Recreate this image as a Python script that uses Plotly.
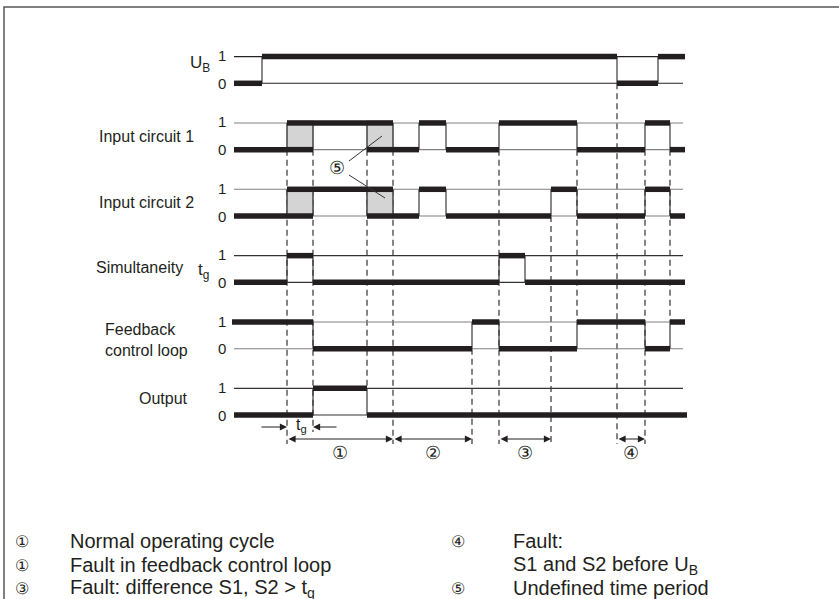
import plotly.graph_objects as go

# ---------------- data ----------------
# times in arbitrary time units (t = 0 at the start of the diagram)
row_labels = ["U<sub>B</sub>", "Input circuit 1", "Input circuit 2",
              "Simultaneity", "Feedback<br>control loop", "Output"]

ub_times = [0, 28, 383, 424, 451]
ub_states = [0, 1, 0, 1]

ic1_times = [0, 53, 79, 133, 159, 185, 212, 265, 343, 411, 436, 451]
ic1_states = [0, "X", 1, "X", 0, 1, 0, 1, 0, 1, 0]

ic2_times = [0, 53, 79, 133, 159, 185, 212, 317, 343, 411, 436, 451]
ic2_states = [0, "X", 1, "X", 0, 1, 0, 1, 0, 1, 0]

sim_times = [0, 53, 79, 265, 291, 451]
sim_states = [0, 1, 0, 1, 0]

fb_times = [-2, 79, 238, 265, 343, 411, 436, 451]
fb_states = [1, 0, 1, 0, 1, 0, 1]

out_times = [0, 79, 133, 453]
out_states = [0, 1, 0]

ref_line_end = 449

# dashed marker lines: time, (row, level) start, end kind
dash_times = [53, 79, 133, 159, 238, 265, 317, 343, 383, 411, 436]
dash_from = [(1, 0), (1, 0), (1, 0), (1, 0), (4, 0), (1, 0), (2, 0), (1, 0), (0, 0), (1, 0), (1, 0)]
dash_to = ["period", "tg", (5, 1), "period", "period", "period", "period", (4, 1), "period", "period", (4, 1)]

period_starts = [53, 159, 265, 383]
period_ends = [159, 238, 317, 411]
period_labels = ["①", "②", "③", "④"]

tg_start, tg_end = 53, 79

legend_left_syms = ["①", "①", "③"]
legend_left_texts = ["Normal operating cycle", "Fault in feedback control loop",
                     "Fault: difference S1, S2 > t<sub>g</sub>"]
legend_right_syms = ["④", "", "⑤"]
legend_right_texts = ["Fault:", "S1 and S2 before U<sub>B</sub>", "Undefined time period"]

# ---------------- layout constants ----------------
W, H = 839, 599
T0_PX = 234             # page pixel of t = 0
ROW0 = 83.3
ROW_STEP = 66.35
LEVEL_H = 26.7
PERIOD_Y = 439
TG_Y = 427
INK = "#231f20"
FONT = "Liberation Sans, Arial, Helvetica, sans-serif"
row_series = [(ub_times, ub_states), (ic1_times, ic1_states), (ic2_times, ic2_states),
              (sim_times, sim_states), (fb_times, fb_states), (out_times, out_states)]
ref_colors = ["#222", "#808080", "#808080", "#333", "#808080", "#333"]


def yl(row, lvl):
    return ROW0 + ROW_STEP * row - LEVEL_H * lvl


def pxx(x):
    return x / W


def pxy(y):
    return 1 - y / H


fig = go.Figure()

# dashed lines
dx, dy = [], []
for t, f, e in zip(dash_times, dash_from, dash_to):
    y0 = yl(*f)
    if e == "period":
        y1 = PERIOD_Y + 5
    elif e == "tg":
        y1 = TG_Y + 5
    else:
        y1 = yl(*e)
    dx += [t, t, None]
    dy += [y0, y1, None]
fig.add_trace(go.Scatter(x=dx, y=dy, mode="lines", hoverinfo="skip",
                         line=dict(color="#333", width=1.2, dash="6px,4px")))

for r, (times, states) in enumerate(row_series):
    y0, y1 = yl(r, 0), yl(r, 1)
    # undefined (grey) regions
    for i, s in enumerate(states):
        if s == "X":
            a, b = times[i], times[i + 1]
            fig.add_trace(go.Scatter(x=[a, b, b, a, a], y=[y0, y0, y1, y1, y0],
                                     mode="lines", fill="toself", fillcolor="#d4d4d4",
                                     line=dict(color="#8a8a8a", width=1), hoverinfo="skip"))
    # reference lines
    fig.add_trace(go.Scatter(x=[0, ref_line_end, None, 0, ref_line_end],
                             y=[y1, y1, None, y0, y0], mode="lines", hoverinfo="skip",
                             line=dict(color=ref_colors[r], width=1.1)))
    # transitions
    tx, ty = [], []
    for t in times[1:-1]:
        tx += [t, t, None]
        ty += [y0, y1, None]
    fig.add_trace(go.Scatter(x=tx, y=ty, mode="lines", hoverinfo="skip",
                             line=dict(color="#3a3a3a", width=1.2)))
    # thick state segments
    sx, sy = [], []
    for i, s in enumerate(states):
        a, b = times[i], times[i + 1]
        levels = [0, 1] if s == "X" else [s]
        for lv in levels:
            yy = yl(r, lv)
            sx += [a, b, None]
            sy += [yy, yy, None]
    fig.add_trace(go.Scatter(x=sx, y=sy, mode="lines", hoverinfo="skip",
                             line=dict(color=INK, width=5.5)))

annotations = []


def txt(x, y, text, size, xanchor="left", yanchor="middle"):
    annotations.append(dict(x=pxx(x), y=pxy(y), xref="paper", yref="paper", text=text,
                            showarrow=False, xanchor=xanchor, yanchor=yanchor,
                            font=dict(family=FONT, size=size, color=INK)))


# row labels
label_pos = [(212, 64, "right", 17), (97, 136, "left", 16), (97, 202, "left", 16),
             (94, 267, "left", 16), (103, 340, "left", 16), (137, 398, "left", 16)]
for lab, (x, y, anc, sz) in zip(row_labels, label_pos):
    annotations.append(dict(x=pxx(x), y=pxy(y), xref="paper", yref="paper", text=lab,
                            showarrow=False, xanchor=anc, yanchor="middle", align="left",
                            font=dict(family=FONT, size=sz, color=INK)))
txt(196, 271, "t<sub>g</sub>", 17)

# level digits
for r in range(6):
    txt(228, yl(r, 1) - 1, "1", 15, xanchor="right")
    txt(228, yl(r, 0), "0", 15, xanchor="right")

# period arrows
for a, b, lab in zip(period_starts, period_ends, period_labels):
    annotations.append(dict(x=b, y=PERIOD_Y, ax=a, ay=PERIOD_Y, xref="x", yref="y",
                            axref="x", ayref="y", text="", showarrow=True,
                            arrowhead=2, startarrowhead=2, arrowside="end+start",
                            arrowsize=1.3, startarrowsize=1.3, arrowwidth=1.1, arrowcolor=INK))
    annotations.append(dict(x=(a + b) / 2, y=PERIOD_Y + 14, xref="x", yref="y", text=lab,
                            showarrow=False, font=dict(family=FONT, size=18, color=INK)))

# t_g arrows
annotations.append(dict(x=tg_start, y=TG_Y, ax=tg_start - 27, ay=TG_Y, xref="x", yref="y",
                        axref="x", ayref="y", text="", showarrow=True, arrowhead=2,
                        arrowsize=1.3, arrowwidth=1.1, arrowcolor=INK))
annotations.append(dict(x=tg_end, y=TG_Y, ax=tg_end + 25, ay=TG_Y, xref="x", yref="y",
                        axref="x", ayref="y", text="", showarrow=True, arrowhead=2,
                        arrowsize=1.3, arrowwidth=1.1, arrowcolor=INK))
annotations.append(dict(x=(tg_start + tg_end) / 2 + 1, y=TG_Y - 2, xref="x", yref="y",
                        text="t<sub>g</sub>", showarrow=False,
                        font=dict(family=FONT, size=16, color=INK)))

# undefined-period marker (5) with leader lines
c5x, c5y = 103, 168
annotations.append(dict(x=c5x, y=c5y, xref="x", yref="y", text="⑤", showarrow=False,
                        font=dict(family=FONT, size=18, color=INK)))
fig.add_trace(go.Scatter(x=[c5x + 12, c5x + 45, None, c5x + 12, c5x + 48],
                         y=[c5y - 7, c5y - 32, None, c5y + 7, c5y + 30],
                         mode="lines", hoverinfo="skip",
                         line=dict(color="#333", width=1)))

# legend
leg_y = [541, 565, 588]
for y, s, t in zip(leg_y, legend_left_syms, legend_left_texts):
    txt(22, y, s, 16, xanchor="center")
    txt(68, y, t, 20)
for y, s, t in zip(leg_y, legend_right_syms, legend_right_texts):
    if s:
        txt(458, y, s, 16, xanchor="center")
    txt(511, y, t, 20)

fig.update_layout(
    width=W, height=H, margin=dict(l=0, r=0, t=0, b=0),
    paper_bgcolor="white", plot_bgcolor="white", showlegend=False,
    xaxis=dict(range=[-T0_PX, W - T0_PX], visible=False, fixedrange=True),
    yaxis=dict(range=[H, 0], visible=False, fixedrange=True),
    annotations=annotations,
    shapes=[dict(type="rect", xref="paper", yref="paper", x0=pxx(4), x1=1.2,
                 y0=-0.2, y1=pxy(7), line=dict(color="#555", width=1.5))],
)

fig.write_html("out.html", config={"displayModeBar": False},
               post_script="document.body.style.margin='0';document.body.style.overflow='hidden';")
